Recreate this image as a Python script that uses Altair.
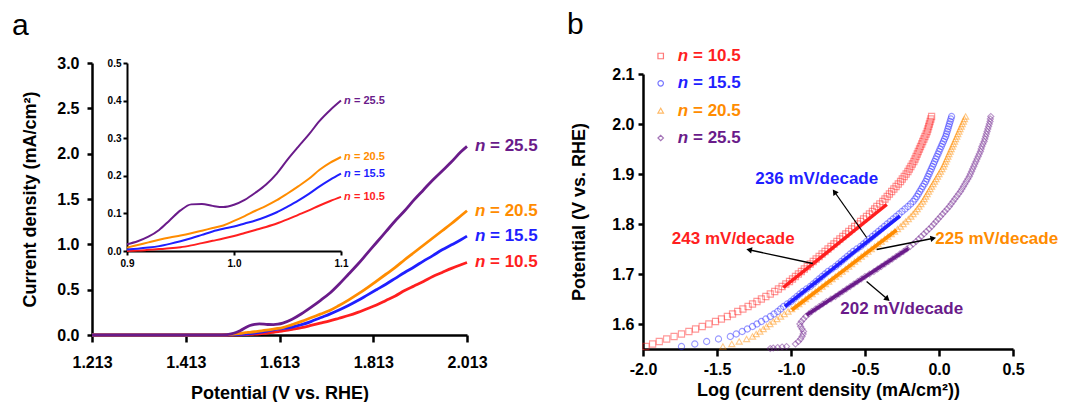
import altair as alt
import pandas as pd
import numpy as np

FONT = "Liberation Sans"
SERIES = ["10.5", "15.5", "20.5", "25.5"]
COLORS = ["#ff1f1f", "#1f1fff", "#ff8c00", "#6a1b8a"]
SHAPES = ["square", "circle", "triangle-up", "diamond"]

# ---------------- panel a : LSV curves ----------------
E_A = [1.213, 1.30, 1.40, 1.48, 1.50, 1.51, 1.52, 1.53, 1.54, 1.55, 1.56, 1.57, 1.58,
       1.59, 1.60, 1.61, 1.62, 1.64, 1.66, 1.68, 1.70, 1.72, 1.74, 1.76, 1.78, 1.80,
       1.82, 1.84, 1.86, 1.88, 1.90, 1.92, 1.94, 1.96, 1.98, 2.00, 2.013]
J_A_105 = [0, 0, 0, 0, 0, 0, 0.001, 0.002, 0.004, 0.006, 0.009, 0.013, 0.018, 0.024, 0.03,
           0.037, 0.045, 0.062, 0.081, 0.105, 0.13, 0.155, 0.185, 0.215, 0.25, 0.29, 0.33,
           0.38, 0.43, 0.49, 0.54, 0.59, 0.645, 0.69, 0.735, 0.775, 0.80]
J_A_155 = [0, 0, 0, 0, 0.001, 0.003, 0.005, 0.007, 0.011, 0.016, 0.022, 0.03, 0.038, 0.047,
           0.056, 0.064, 0.071, 0.088, 0.114, 0.148, 0.19, 0.23, 0.275, 0.325, 0.38, 0.44,
           0.50, 0.56, 0.625, 0.69, 0.75, 0.815, 0.875, 0.94, 0.995, 1.05, 1.09]
J_A_205 = [0, 0, 0, 0, 0.003, 0.007, 0.012, 0.018, 0.025, 0.03, 0.036, 0.043, 0.05, 0.057,
           0.064, 0.072, 0.082, 0.115, 0.15, 0.19, 0.23, 0.27, 0.325, 0.385, 0.45, 0.52,
           0.595, 0.67, 0.745, 0.83, 0.91, 0.99, 1.07, 1.15, 1.23, 1.315, 1.37]
J_A_255 = [0, 0, 0, 0, 0.003, 0.012, 0.028, 0.05, 0.08, 0.105, 0.118, 0.122, 0.12, 0.116,
           0.115, 0.12, 0.132, 0.175, 0.235, 0.305, 0.38, 0.46, 0.56, 0.67, 0.78, 0.90,
           1.02, 1.14, 1.26, 1.37, 1.49, 1.60, 1.71, 1.81, 1.91, 2.02, 2.08]
A_XTICKS = [1.213, 1.413, 1.613, 1.813, 2.013]
A_YTICKS = [0.0, 0.5, 1.0, 1.5, 2.0, 2.5, 3.0]

# ---------------- panel a : inset ----------------
E_IN = [0.90, 0.91, 0.92, 0.93, 0.94, 0.95, 0.96, 0.97, 0.98, 0.99, 1.00, 1.01, 1.02,
        1.03, 1.04, 1.05, 1.06, 1.07, 1.08, 1.09, 1.10]
J_IN_105 = [0.0, 0.001, 0.003, 0.005, 0.007, 0.01, 0.015, 0.021, 0.027, 0.033, 0.04, 0.048,
            0.056, 0.064, 0.073, 0.084, 0.096, 0.108, 0.121, 0.133, 0.144]
J_IN_155 = [0.004, 0.006, 0.009, 0.013, 0.019, 0.026, 0.034, 0.043, 0.052, 0.059, 0.065,
            0.073, 0.081, 0.091, 0.103, 0.118, 0.134, 0.152, 0.172, 0.19, 0.206]
J_IN_205 = [0.009, 0.016, 0.023, 0.03, 0.036, 0.041, 0.047, 0.054, 0.061, 0.068, 0.08,
            0.093, 0.107, 0.12, 0.135, 0.153, 0.172, 0.192, 0.216, 0.235, 0.25]
J_IN_255 = [0.018, 0.026, 0.038, 0.056, 0.082, 0.108, 0.124, 0.125, 0.12, 0.117, 0.123,
            0.136, 0.155, 0.177, 0.206, 0.243, 0.277, 0.31, 0.346, 0.375, 0.40]
IN_XTICKS = [0.9, 1.0, 1.1]
IN_YTICKS = [0.0, 0.1, 0.2, 0.3, 0.4, 0.5]

# ---------------- panel b : Tafel plots ----------------
E_B = [1.555, 1.560, 1.565, 1.570, 1.575, 1.580, 1.585, 1.590, 1.595, 1.600,
       1.605, 1.610, 1.615, 1.620, 1.625, 1.630, 1.635, 1.640, 1.645, 1.650,
       1.655, 1.660, 1.665, 1.670, 1.675, 1.680, 1.685, 1.690, 1.695, 1.700,
       1.705, 1.710, 1.715, 1.720, 1.725, 1.730, 1.735, 1.740, 1.745, 1.750,
       1.755, 1.760, 1.765, 1.770, 1.775, 1.780, 1.785, 1.790, 1.795, 1.800,
       1.805, 1.810, 1.815, 1.820, 1.825, 1.830, 1.835, 1.840, 1.845, 1.850,
       1.855, 1.860, 1.865, 1.870, 1.875, 1.880, 1.885, 1.890, 1.895, 1.900,
       1.905, 1.910, 1.915, 1.920, 1.925, 1.930, 1.935, 1.940, 1.945, 1.950,
       1.955, 1.960, 1.965, 1.970, 1.975, 1.980, 1.985, 1.990, 1.995, 2.000,
       2.005, 2.010, 2.015]
LJ_105 = [-1.98, -1.935, -1.89, -1.84, -1.79, -1.74, -1.69, -1.645, -1.60, -1.555,
          -1.51, -1.47, -1.43, -1.395, -1.36, -1.325, -1.29, -1.26, -1.23, -1.20,
          -1.17, -1.14, -1.11, -1.085, -1.06, -1.035, -1.01, -0.99, -0.97, -0.95,
          -0.93, -0.91, -0.89, -0.87, -0.85, -0.83, -0.81, -0.79, -0.77, -0.75,
          -0.73, -0.71, -0.69, -0.67, -0.65, -0.63, -0.61, -0.59, -0.57, -0.55,
          -0.53, -0.51, -0.49, -0.47, -0.45, -0.435, -0.42, -0.40, -0.38, -0.365,
          -0.35, -0.335, -0.32, -0.305, -0.29, -0.275, -0.26, -0.248, -0.235, -0.222,
          -0.21, -0.20, -0.19, -0.18, -0.17, -0.162, -0.155, -0.147, -0.14, -0.132,
          -0.125, -0.117, -0.11, -0.102, -0.095, -0.087, -0.08, -0.075, -0.07, -0.065,
          -0.06, -0.055, -0.05]
LJ_155 = [-1.74, -1.65, -1.57, -1.49, -1.41, -1.37, -1.33, -1.295, -1.26, -1.23,
          -1.20, -1.17, -1.14, -1.115, -1.09, -1.07, -1.05, -1.025, -1.00, -0.98,
          -0.96, -0.94, -0.92, -0.895, -0.87, -0.85, -0.83, -0.81, -0.79, -0.77,
          -0.75, -0.725, -0.70, -0.68, -0.66, -0.64, -0.62, -0.60, -0.58, -0.555,
          -0.53, -0.51, -0.49, -0.47, -0.45, -0.43, -0.41, -0.39, -0.37, -0.35,
          -0.33, -0.31, -0.29, -0.27, -0.25, -0.23, -0.21, -0.192, -0.175, -0.162,
          -0.15, -0.14, -0.13, -0.12, -0.11, -0.10, -0.09, -0.082, -0.075, -0.067,
          -0.06, -0.052, -0.045, -0.037, -0.03, -0.022, -0.015, -0.007, 0.0, 0.007,
          0.015, 0.022, 0.03, 0.037, 0.045, 0.05, 0.055, 0.06, 0.065, 0.07,
          0.075, 0.08, 0.085]
LJ_205 = [-1.46, -1.40, -1.35, -1.30, -1.26, -1.235, -1.21, -1.187, -1.165, -1.142,
          -1.12, -1.095, -1.07, -1.045, -1.02, -0.995, -0.97, -0.947, -0.925, -0.902,
          -0.88, -0.857, -0.835, -0.812, -0.79, -0.767, -0.745, -0.722, -0.70, -0.677,
          -0.655, -0.632, -0.61, -0.59, -0.57, -0.547, -0.525, -0.502, -0.48, -0.457,
          -0.435, -0.412, -0.39, -0.367, -0.345, -0.322, -0.30, -0.28, -0.26, -0.242,
          -0.225, -0.207, -0.19, -0.175, -0.16, -0.147, -0.135, -0.122, -0.11, -0.10,
          -0.09, -0.08, -0.07, -0.06, -0.05, -0.04, -0.03, -0.02, -0.01, 0.0,
          0.01, 0.02, 0.03, 0.037, 0.045, 0.052, 0.06, 0.067, 0.075, 0.082,
          0.09, 0.097, 0.105, 0.112, 0.12, 0.127, 0.135, 0.142, 0.15, 0.157,
          0.165, 0.172, 0.18]
LJ_255 = [-1.03, -0.97, -0.95, -0.935, -0.925, -0.918, -0.915, -0.925, -0.935, -0.94,
          -0.93, -0.915, -0.90, -0.88, -0.86, -0.835, -0.81, -0.785, -0.76, -0.73,
          -0.70, -0.675, -0.65, -0.625, -0.60, -0.575, -0.55, -0.525, -0.50, -0.47,
          -0.44, -0.415, -0.39, -0.365, -0.34, -0.315, -0.29, -0.265, -0.24, -0.217,
          -0.195, -0.175, -0.155, -0.137, -0.12, -0.102, -0.085, -0.067, -0.05, -0.035,
          -0.02, -0.005, 0.01, 0.025, 0.04, 0.055, 0.07, 0.082, 0.095, 0.107,
          0.12, 0.132, 0.145, 0.155, 0.165, 0.175, 0.185, 0.195, 0.205, 0.212,
          0.22, 0.227, 0.235, 0.242, 0.25, 0.257, 0.265, 0.272, 0.28, 0.285,
          0.29, 0.297, 0.305, 0.31, 0.315, 0.32, 0.325, 0.33, 0.335, 0.34,
          0.345, 0.347, 0.35]
E_B_255_TAIL = [1.551, 1.552, 1.553, 1.554]
LJ_255_TAIL = [-1.14, -1.12, -1.09, -1.06]
B_XTICKS = [-2.0, -1.5, -1.0, -0.5, 0.0, 0.5]
B_YTICKS = [1.6, 1.7, 1.8, 1.9, 2.0, 2.1]

# linear Tafel fits (start / end)
FIT_X1 = [-1.052, -1.041, -0.995, -0.894]
FIT_Y1 = [1.673, 1.635, 1.628, 1.618]
FIT_X2 = [-0.353, -0.264, -0.286, -0.207]
FIT_Y2 = [1.839, 1.816, 1.788, 1.751]

SLOPE_TEXT = ["243 mV/decade", "236 mV/decade", "225 mV/decade", "202 mV/decade"]
SLOPE_X = [-1.39, -0.826, 0.39, -0.252]
SLOPE_Y = [1.770, 1.891, 1.770, 1.630]

ARROW_X1 = [-0.853, -0.489, -0.421, -0.489]
ARROW_Y1 = [1.721, 1.773, 1.749, 1.685]
ARROW_X2 = [-1.277, -0.703, -0.045, -0.353]
ARROW_Y2 = [1.748, 1.863, 1.771, 1.651]

# ---------------- layout (whole canvas, pixels) ----------------
W, H = 1051, 394
A_XR, A_YR = [84, 459], [327, 55]
IN_XR, IN_YR = [119, 333], [243, 55]
B_XR, B_YR = [635, 1005], [341, 66]
LEG_YR = [48, 130]
LEG_SYM_X, LEG_N_X, LEG_T_X = 652.7, 669.7, 685

# ---------------- tables ----------------
J_A = [J_A_105, J_A_155, J_A_205, J_A_255]
J_IN = [J_IN_105, J_IN_155, J_IN_205, J_IN_255]
df_a = pd.DataFrame([(s, e, j) for s, js in zip(SERIES, J_A) for e, j in zip(E_A, js)],
                    columns=["series", "E", "j"])
df_a_lab = pd.DataFrame({"series": SERIES, "E": [E_A[-1]] * 4, "j": [js[-1] for js in J_A],
                         "txt": ["= " + s for s in SERIES], "n": ["n"] * 4})
df_in = pd.DataFrame([(s, e, j) for s, js in zip(SERIES, J_IN) for e, j in zip(E_IN, js)],
                     columns=["series", "E", "j"])
df_in_lab = pd.DataFrame({"series": SERIES, "E": [E_IN[-1]] * 4, "j": [js[-1] for js in J_IN],
                          "txt": ["= " + s for s in SERIES], "n": ["n"] * 4})
rows_b = []
for s, ljs in zip(SERIES, [LJ_105, LJ_155, LJ_205, LJ_255]):
    for e, lj in zip(E_B, ljs):
        rows_b.append((s, lj, e))
for e, lj in zip(E_B_255_TAIL, LJ_255_TAIL):
    rows_b.append(("25.5", lj, e))
df_b = pd.DataFrame(rows_b, columns=["series", "logj", "E"])
df_fit = pd.DataFrame({"series": SERIES, "logj": FIT_X1, "E": FIT_Y1, "x2": FIT_X2, "y2": FIT_Y2})
df_slope = pd.DataFrame({"series": SERIES, "logj": SLOPE_X, "E": SLOPE_Y, "txt": SLOPE_TEXT})
df_arrow = pd.DataFrame({"logj": ARROW_X1, "E": ARROW_Y1, "x2": ARROW_X2, "y2": ARROW_Y2})
sx = (B_XR[1] - B_XR[0]) / 2.5
sy = (B_YR[0] - B_YR[1]) / 0.55
dxp = (np.array(ARROW_X2) - np.array(ARROW_X1)) * sx
dyp = -(np.array(ARROW_Y2) - np.array(ARROW_Y1)) * sy
df_head = pd.DataFrame({"logj": ARROW_X2, "E": ARROW_Y2,
                        "ang": np.mod(np.degrees(np.arctan2(dxp, -dyp)), 360)})
df_leg = pd.DataFrame({"series": SERIES, "txt": ["= " + s for s in SERIES], "n": ["n"] * 4})

color_scale = alt.Scale(domain=SERIES, range=COLORS)
shape_scale = alt.Scale(domain=SERIES, range=SHAPES)
col = alt.Color("series:N", scale=color_scale, legend=None)
shp = alt.Shape("series:N", scale=shape_scale, legend=None)

main_axis = dict(domainColor="black", domainWidth=2.5, tickColor="black", tickWidth=2.5,
                 labelColor="black", labelFont=FONT, labelFontSize=16,
                 labelFontWeight="bold", titleFont=FONT, titleFontSize=18,
                 titleFontWeight="bold", titleColor="black", grid=False,
                 labelFlush=False, labelOverlap=False)
inset_axis = dict(domainColor="black", domainWidth=2, tickColor="black", tickWidth=2,
                  tickSize=4, labelColor="black", labelFont=FONT, labelFontSize=10,
                  labelFontWeight="bold", grid=False, labelFlush=False, labelOverlap=False,
                  title=None)

# ---------------- panel a main ----------------
xa = alt.X("E:Q", scale=alt.Scale(domain=[1.213, 2.013], range=A_XR, nice=False, zero=False),
           axis=alt.Axis(orient="bottom", offset=A_YR[0] - H, values=A_XTICKS, format=".3f",
                         title="Potential (V vs. RHE)", tickSize=7, labelPadding=12,
                         titlePadding=14, **main_axis))
ya = alt.Y("j:Q", scale=alt.Scale(domain=[0, 3], range=A_YR, nice=False, zero=False),
           axis=alt.Axis(orient="left", offset=-A_XR[0], values=A_YTICKS, format=".1f",
                         title="Current density (mA/cm²)", tickSize=5, labelPadding=8,
                         titlePadding=17, **main_axis))
a_lines = alt.Chart(df_a).mark_line(strokeWidth=2.8, interpolate="monotone").encode(
    x=xa, y=ya, color=col, detail="series:N")
a_n = alt.Chart(df_a_lab).mark_text(align="left", baseline="middle", dx=8, font=FONT,
                                     fontSize=17, fontWeight="bold", fontStyle="italic").encode(
    x=xa, y=ya, text="n:N", color=col)
a_t = alt.Chart(df_a_lab).mark_text(align="left", baseline="middle", dx=23, font=FONT,
                                     fontSize=17, fontWeight="bold").encode(
    x=xa, y=ya, text="txt:N", color=col)
panel_a = alt.layer(a_lines, a_n, a_t)

# ---------------- panel a inset ----------------
xi = alt.X("E:Q", scale=alt.Scale(domain=[0.9, 1.1], range=IN_XR, nice=False, zero=False),
           axis=alt.Axis(orient="bottom", offset=IN_YR[0] - H, values=IN_XTICKS, format=".1f",
                         labelPadding=3, **inset_axis))
yi = alt.Y("j:Q", scale=alt.Scale(domain=[0, 0.5], range=IN_YR, nice=False, zero=False),
           axis=alt.Axis(orient="left", offset=-IN_XR[0], values=IN_YTICKS, format=".1f",
                         labelPadding=2, **inset_axis))
i_lines = alt.Chart(df_in).mark_line(strokeWidth=2, interpolate="monotone").encode(
    x=xi, y=yi, color=col, detail="series:N")
i_n = alt.Chart(df_in_lab).mark_text(align="left", baseline="middle", dx=3, font=FONT,
                                      fontSize=11, fontWeight="bold", fontStyle="italic").encode(
    x=xi, y=yi, text="n:N", color=col)
i_t = alt.Chart(df_in_lab).mark_text(align="left", baseline="middle", dx=13, font=FONT,
                                      fontSize=11, fontWeight="bold").encode(
    x=xi, y=yi, text="txt:N", color=col)
panel_in = alt.layer(i_lines, i_n, i_t)

# ---------------- panel b ----------------
xb_scale = alt.Scale(domain=[-2.0, 0.5], range=B_XR, nice=False, zero=False)
yb_scale = alt.Scale(domain=[1.55, 2.1], range=B_YR, nice=False, zero=False)
xb = alt.X("logj:Q", scale=xb_scale,
           axis=alt.Axis(orient="bottom", offset=B_YR[0] - H, values=B_XTICKS,
                         labelExpr="datum.value < 0 ? '-' + format(-datum.value, '.1f') : format(datum.value, '.1f')",
                         title="Log (current density (mA/cm²))", tickSize=7, labelPadding=5,
                         titlePadding=4, **main_axis))
yb = alt.Y("E:Q", scale=yb_scale,
           axis=alt.Axis(orient="left", offset=-B_XR[0], values=B_YTICKS, format=".1f",
                         title="Potential (V vs. RHE)", tickSize=5, labelPadding=4,
                         titlePadding=23, **main_axis))
b_pts = alt.Chart(df_b).mark_point(filled=False, size=38, strokeWidth=1.1, opacity=0.45).encode(
    x=xb, y=yb, color=col, shape=shp)
b_fit = alt.Chart(df_fit).mark_rule(strokeWidth=3.5).encode(
    x=xb, y=yb, x2="x2:Q", y2="y2:Q", color=col)
b_arrow = alt.Chart(df_arrow).mark_rule(strokeWidth=1.3, color="black").encode(
    x=xb, y=yb, x2="x2:Q", y2="y2:Q")
b_head = alt.Chart(df_head).mark_point(shape="triangle", filled=True, color="black",
                                        size=42, opacity=1).encode(
    x=xb, y=yb, angle=alt.Angle("ang:Q", scale=None))
b_text = alt.Chart(df_slope).mark_text(align="center", baseline="middle", font=FONT,
                                        fontSize=17, fontWeight="bold").encode(
    x=xb, y=yb, text="txt:N", color=col)
panel_b = alt.layer(b_pts, b_fit, b_arrow, b_head, b_text)

# ---------------- panel b legend (symbols + labels) ----------------
yl = alt.Y("series:N", scale=alt.Scale(domain=SERIES, range=LEG_YR, padding=0), axis=None)
leg_sym = alt.Chart(df_leg).mark_point(filled=False, size=30, strokeWidth=1.2, opacity=0.6).encode(
    y=yl, x=alt.value(LEG_SYM_X), color=col, shape=shp)
leg_n = alt.Chart(df_leg).mark_text(align="left", baseline="middle", font=FONT, fontSize=17,
                                     fontWeight="bold", fontStyle="italic").encode(
    y=yl, x=alt.value(LEG_N_X), text="n:N", color=col)
leg_t = alt.Chart(df_leg).mark_text(align="left", baseline="middle", font=FONT, fontSize=17,
                                     fontWeight="bold").encode(
    y=yl, x=alt.value(LEG_T_X), text="txt:N", color=col)
legend_b = alt.layer(leg_sym, leg_n, leg_t)

# ---------------- panel letters ----------------
lab_a = alt.Chart(pd.DataFrame({"t": ["a"]})).mark_text(
    align="left", baseline="alphabetic", font=FONT, fontSize=30, color="black").encode(
    text="t:N", x=alt.value(4), y=alt.value(27))
lab_b = alt.Chart(pd.DataFrame({"t": ["b"]})).mark_text(
    align="left", baseline="alphabetic", font=FONT, fontSize=30, color="black").encode(
    text="t:N", x=alt.value(559), y=alt.value(26))

chart = alt.layer(panel_a, panel_in, panel_b, legend_b, lab_a, lab_b).resolve_scale(
    x="independent", y="independent").resolve_axis(
    x="independent", y="independent").properties(
    width=W, height=H, autosize=alt.AutoSizeParams(type="none"), padding=0
).configure_view(stroke=None)

chart.save("out.html", embed_options={"renderer": "svg", "actions": False})
